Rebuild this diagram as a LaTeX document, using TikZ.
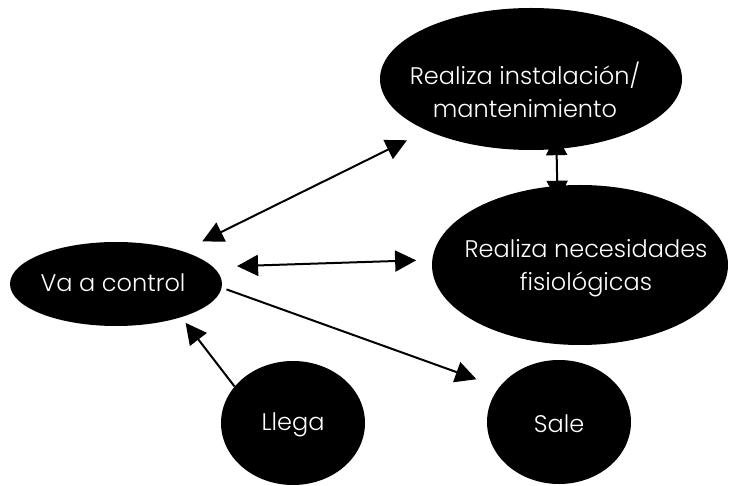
\documentclass[tikz,border=0pt]{standalone}
\usepackage{fontspec}
\setmainfont{Poppins}[UprightFont=* Light]
\usetikzlibrary{arrows.meta,shapes.geometric,backgrounds}
\tikzset{
  bubble/.style={ellipse, fill=black, inner sep=0pt},
  txt/.style={text=white, inner sep=0pt, font=\fontsize{24}{33}\selectfont, align=center},
  link/.style={line width=2pt, draw=black},
  tip/.style={-{Triangle[length=21pt,width=21pt]}},
  twotips/.style={{Triangle[length=21pt,width=21pt]}-{Triangle[length=21pt,width=21pt]}}
}
\begin{document}
\begin{tikzpicture}[x=1pt,y=-1pt]
  \useasboundingbox (0,0) rectangle (731,486);
  % activities: black ellipses
  \node[bubble, minimum width=302pt, minimum height=142pt] (inst) at (531,79) {};
  \node[bubble, minimum width=296pt, minimum height=160pt] (nec) at (580,265) {};
  \node[bubble, minimum width=212pt, minimum height=84pt] (va) at (116,284) {};
  \node[bubble, minimum width=144pt, minimum height=124pt] (llega) at (293,423) {};
  \node[bubble, minimum width=144pt, minimum height=124pt] (sale) at (559,422) {};
  % their labels
  \node[txt] (instT) at (525,90) {Realiza instalación/\\mantenimiento};
  \node[txt] (necT) at (586,268) {Realiza necesidades\\fisiológicas};
  \node[txt] (vaT) at (113,283) {Va a control};
  \node[txt] (llegaT) at (293,425) {Llega};
  \node[txt] (saleT) at (559,424) {Sale};
  % flows
  \begin{scope}[on background layer]
    \draw[link, twotips, shorten <=22pt, shorten >=22pt] (va) -- (inst);
    \draw[link, twotips, shorten <=24pt, shorten >=16pt] (va.10) -- (nec.178.5);
    \draw[link, tip, shorten <=5pt, shorten >=24pt] (va.-2) -- (sale.150);
    \draw[link, tip, shorten >=7pt] (llega.148) -- (va.-27);
    \draw[link, twotips, shorten <=-15pt, shorten >=-16pt] (inst.-70) -- (nec.106);
  \end{scope}
\end{tikzpicture}
\end{document}
